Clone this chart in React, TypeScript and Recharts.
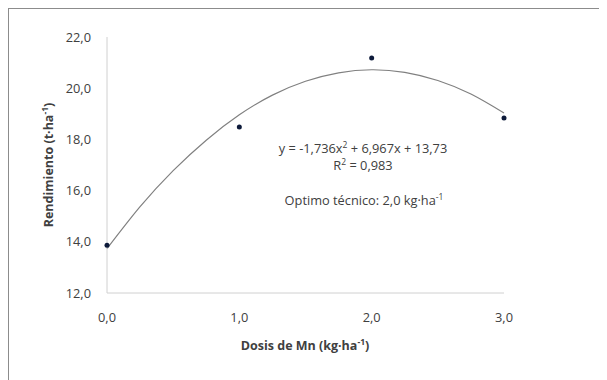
import React from "react";
import { ComposedChart, Line, Scatter, XAxis, YAxis, Customized } from "recharts";

const doses = [0, 1, 2, 3];
const yields = [13.87, 18.48, 21.18, 18.84];

const curveX = [0, 0.25, 0.5, 0.75, 1, 1.25, 1.5, 1.75, 2, 2.25, 2.5, 2.75, 3];
const curveY = [13.73, 15.37, 16.78, 17.97, 18.96, 19.73, 20.27, 20.6, 20.72, 20.62, 20.3, 19.77, 19.03];

const xTicks = [0, 1, 2, 3];
const yTicks = [12, 14, 16, 18, 20, 22];

const points = doses.map((d, i) => ({ x: d, obs: yields[i] }));
const curve = curveX.map((d, i) => ({ x: d, fit: curveY[i] }));

const FONT = "'Open Sans', sans-serif";
const fmt = (v: number) => v.toFixed(1).replace(".", ",");

const Annotations = () => (
  <g fontFamily={FONT} fill="#404040" fontSize={12.8}>
    <text x={354} y={144} textAnchor="middle">
      y = -1,736x<tspan fontSize={8.5} dy={-5}>2</tspan>
      <tspan dy={5}> + 6,967x + 13,73</tspan>
    </text>
    <text x={354} y={161} textAnchor="middle">
      R<tspan fontSize={8.5} dy={-5}>2</tspan>
      <tspan dy={5}> = 0,983</tspan>
    </text>
    <text x={355} y={196} textAnchor="middle">
      Optimo técnico: 2,0 kg·ha<tspan fontSize={8.5} dy={-5}>-1</tspan>
    </text>
    <text x={296} y={341} textAnchor="middle" fontWeight="bold" fontSize={12.5}>
      Dosis de Mn (kg·ha<tspan fontSize={8.5} dy={-5}>-1</tspan>
      <tspan dy={5}>)</tspan>
    </text>
    <text
      x={0}
      y={0}
      transform="translate(44,156) rotate(-90)"
      textAnchor="middle"
      fontWeight="bold"
      fontSize={12.5}
    >
      Rendimiento (t·ha<tspan fontSize={8.5} dy={-5}>-1</tspan>
      <tspan dy={5}>)</tspan>
    </text>
  </g>
);

export default function App() {
  return (
    <div
      style={{
        width: 598,
        height: 371,
        borderLeft: "1px solid #8c8c8c",
        borderTop: "1px solid #8c8c8c",
        background: "#fff",
      }}
    >
      <ComposedChart
        width={598}
        height={371}
        margin={{ top: 28, right: 103, left: 38, bottom: 57 }}
      >
        <XAxis
          type="number"
          dataKey="x"
          domain={[0, 3]}
          ticks={xTicks}
          tickFormatter={fmt}
          allowDuplicatedCategory={false}
          height={30}
          axisLine={{ stroke: "#d0d0d0" }}
          tickLine={false}
          tick={{ fill: "#404040", fontSize: 12.8, fontFamily: FONT }}
          tickMargin={14}
        />
        <YAxis
          type="number"
          domain={[12, 22]}
          ticks={yTicks}
          tickFormatter={fmt}
          width={60}
          axisLine={{ stroke: "#d0d0d0" }}
          tickLine={false}
          tick={{ fill: "#404040", fontSize: 12.8, fontFamily: FONT }}
          tickMargin={10}
        />
        <Line
          data={curve}
          dataKey="fit"
          type="natural"
          stroke="#808080"
          strokeWidth={1.2}
          dot={false}
          activeDot={false}
          isAnimationActive={false}
        />
        <Scatter
          data={points}
          dataKey="obs"
          fill="#0d1a3a"
          shape={(p: any) => <circle cx={p.cx} cy={p.cy} r={2.5} fill="#0d1a3a" />}
          isAnimationActive={false}
        />
        <Customized component={Annotations} />
      </ComposedChart>
    </div>
  );
}
